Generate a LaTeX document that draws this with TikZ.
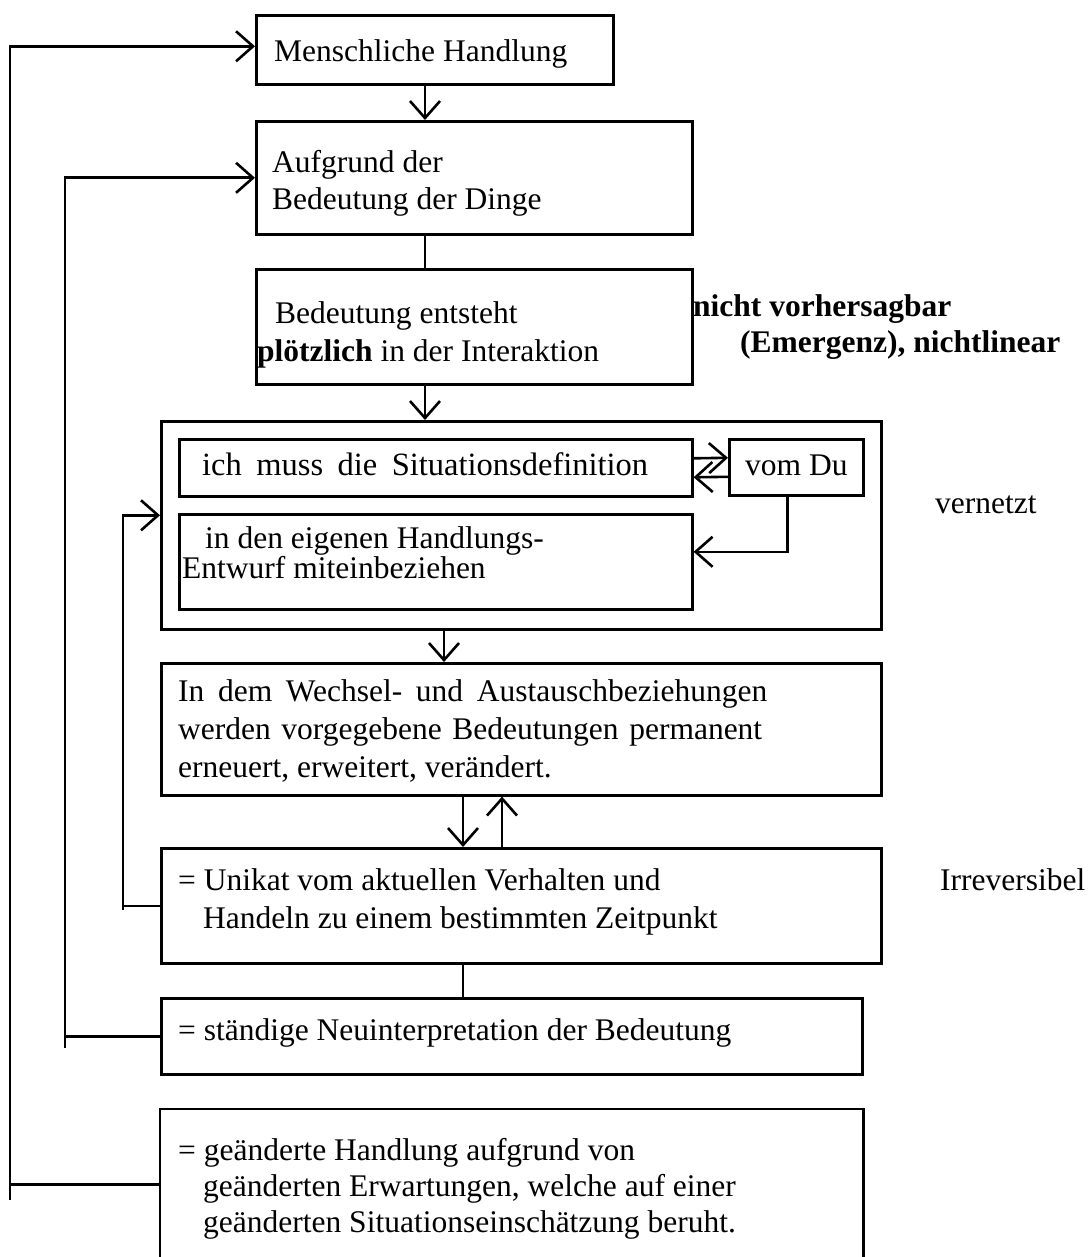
\documentclass[tikz,border=0pt]{standalone}
\usepackage{fontspec}
\setmainfont{Liberation Serif}
\usetikzlibrary{arrows.meta,positioning}

\begin{document}
\begin{tikzpicture}[x=1pt, y=-1pt,
  every node/.style={font=\fontsize{31.5}{37}\selectfont},
  box/.style={draw, line width=2.6pt, anchor=north west, inner sep=0pt},
  txt/.style={anchor=base west, inner sep=0pt, align=left},
  lines/.style={font=\fontsize{31.5}{#1}\selectfont},
  ln/.style={line width=2.6pt},
  arr/.style={-{Straight Barb[length=17pt,width=30pt,line width=2.6pt]}, line width=2.6pt}
]
  \useasboundingbox (0,0) rectangle (1087,1257);

  % boxes
  \node[box, minimum width=357pt, minimum height=69pt]  (handlung)  at (255,14)   {};
  \node[box, minimum width=436pt, minimum height=113pt] (aufgrund)  at (255,120)  {};
  \node[box, minimum width=436pt, minimum height=115pt] (bedeutung) at (255,268)  {};
  \node[box, minimum width=720pt, minimum height=208pt] (rahmen)    at (160,420)  {};
  \node[box, minimum width=513pt, minimum height=57pt]  (sitA)      at (178,438)  {};
  \node[box, minimum width=513pt, minimum height=95pt]  (entwurf)   at (178,513)  {};
  \node[box, minimum width=134pt, minimum height=56pt]  (vomdu)     at (728,438)  {};
  \node[box, minimum width=720pt, minimum height=132pt] (wechsel)   at (160,662)  {};
  \node[box, minimum width=720pt, minimum height=115pt] (unikat)    at (160,847)  {};
  \node[box, minimum width=701pt, minimum height=76pt]  (staendige) at (160,997)  {};
  \node[box, draw=none, minimum width=701pt, minimum height=148pt] (geaendert) at (160,1109) {};
  \draw[ln] (geaendert.south west) |- (geaendert.north east) -- (geaendert.south east);

  % texts (multi-line nodes sit on their last baseline)
  \node[txt] (handlungT)  at (274,62)  {Menschliche Handlung};
  \node[txt] (aufgrundT)  at (272,210) {Aufgrund der\\Bedeutung der Dinge};
  \node[txt, lines=38] (bedeutungT) at (257,361) {\hspace*{18pt}Bedeutung entsteht\\\textbf{plötzlich} in der Interaktion};
  \node[txt, lines=36] (emergenzT)  at (693,352) {\textbf{nicht vorhersagbar}\\\hspace*{47pt}\textbf{(Emergenz), nichtlinear}};
  \node[txt, font=\fontsize{32.5}{37}\selectfont] (sitT) at (202,475) {\makebox[446pt][s]{ich muss die Situationsdefinition}};
  \node[txt, lines=30] (entwurfT) at (182,578) {\hspace*{23pt}in den eigenen Handlungs-\\Entwurf miteinbeziehen};
  \node[txt] (vomduT)     at (745,475) {vom Du};
  \node[txt] (vernetztT)  at (935,513) {vernetzt};
  \node[txt, lines=38] (wechselT) at (178,777) {\makebox[589pt][s]{In dem Wechsel- und Austauschbeziehungen}\\\makebox[584pt][s]{werden vorgegebene Bedeutungen permanent}\\erneuert, erweitert, verändert.};
  \node[txt, lines=38] (unikatT)  at (178,928) {= Unikat vom aktuellen Verhalten und\\\hspace*{25pt}Handeln zu einem bestimmten Zeitpunkt};
  \node[txt] (irrevT)     at (940,890) {Irreversibel};
  \node[txt] (staendigeT) at (178,1040) {= ständige Neuinterpretation der Bedeutung};
  \node[txt, lines=36] (geaendertT) at (178,1232) {= geänderte Handlung aufgrund von\\\hspace*{25pt}geänderten Erwartungen, welche auf einer\\\hspace*{25pt}geänderten Situationseinschätzung beruht.};

  % main flow
  \coordinate (spineA) at (425,0);
  \coordinate (spineB) at (444,0);
  \coordinate (spineC) at (463,0);
  \coordinate (spineD) at (502,0);
  \draw[arr] (handlung.south -| spineA) -- (aufgrund.north -| spineA);
  \draw[ln]  (aufgrund.south -| spineA) -- (bedeutung.north -| spineA);
  \draw[arr] (bedeutung.south -| spineA) -- (rahmen.north -| spineA);
  \draw[arr] (rahmen.south -| spineB) -- (wechsel.north -| spineB);
  \draw[arr] (wechsel.south -| spineC) -- (unikat.north -| spineC);
  \draw[arr] (unikat.north -| spineD) -- (wechsel.south -| spineD);
  \draw[ln]  (unikat.south -| spineC) -- (staendige.north -| spineC);

  % inside the frame
  \draw[arr] ([yshift=9.5pt]sitA.east) -- ([yshift=9.5pt]vomdu.west);
  \draw[arr] ([yshift=-9.5pt]vomdu.west) -- ([yshift=-9.5pt]sitA.east);
  \draw[arr] ([xshift=-9pt]vomdu.south) |- ([yshift=10pt]entwurf.east);

  % feedback loops
  \coordinate (loopO) at (10,1200);
  \coordinate (loopM) at (65,1048);
  \coordinate (loopI) at (123,910);
  \draw[arr] (loopO) |- ([yshift=3.5pt]handlung.west);
  \draw[ln]  (loopO |- geaendert.west) -- (geaendert.west);
  \draw[arr] (loopM) |- (aufgrund.west);
  \draw[ln]  (loopM |- staendige.west) -- (staendige.west);
  \draw[arr] (loopI) |- ([yshift=10pt]rahmen.west);
  \draw[ln]  (loopI |- unikat.west) -- (unikat.west);
\end{tikzpicture}
\end{document}
